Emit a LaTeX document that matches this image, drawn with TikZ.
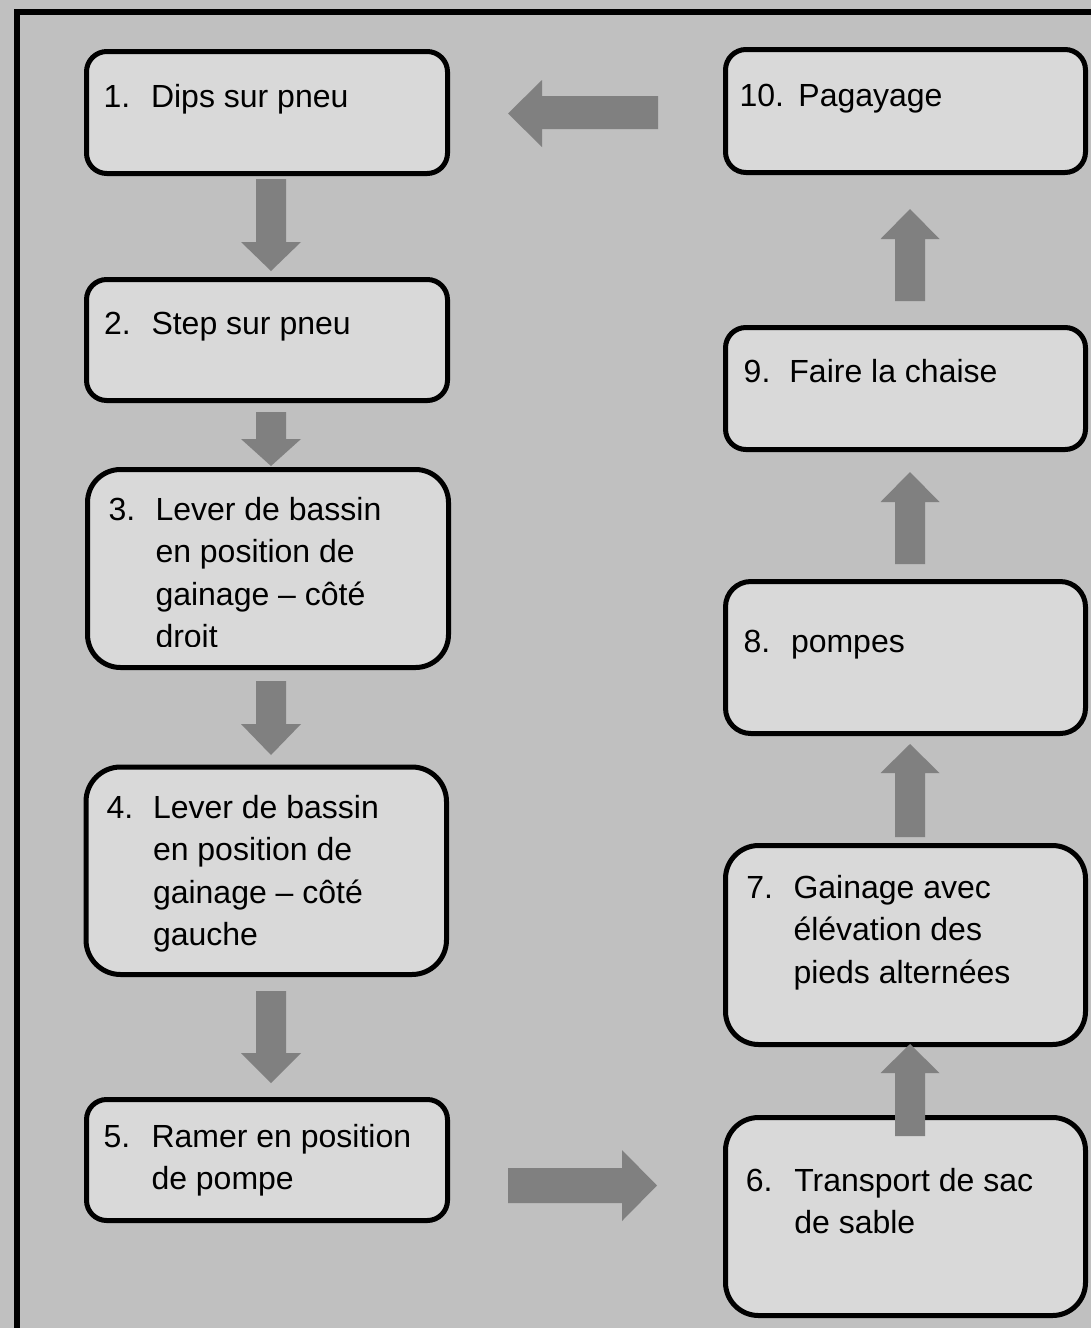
\documentclass[tikz,border=0pt]{standalone}
\usepackage{fontspec}
\setmainfont{Liberation Sans}
\definecolor{bgray}{HTML}{C0C0C0}
\definecolor{boxfill}{HTML}{D9D9D9}
\definecolor{arrowgray}{HTML}{808080}
\tikzset{
  flowbox/.style={draw=black, fill=boxfill, line width=3.75pt, inner sep=0pt, outer sep=0pt},
  txt/.style={anchor=base west, inner sep=0pt, outer sep=0pt, font=\fontsize{24}{31.9}\selectfont, text=black},
  blockarrow/.style={fill=arrowgray},
  frameline/.style={draw=black, line width=4.3pt}
}
% name, x1, y1, x2, y2 (pixel coordinates of stroke centre)
\newcommand\flowstep[5]{%
  \pgfmathsetmacro\bw{(#4-#2)*0.75}%
  \pgfmathsetmacro\bh{(#5-#3)*0.75}%
  \pgfmathsetmacro\br{min(\bw,\bh)/6}%
  \node[flowbox, minimum width=\bw pt, minimum height=\bh pt, rounded corners=\br pt] (#1) at ({(#2+#4)/2},{(#3+#5)/2}) {};%
}
% centre x, shaft top, head base, tip (pointing down)
\newcommand\arrowdown[4]{%
  \fill[blockarrow] (#1-15,#2) -- (#1+15,#2) -- (#1+15,#3) -- (#1+30,#3) -- (#1,#4) -- (#1-30,#3) -- (#1-15,#3) -- cycle;}
% centre x, shaft bottom, head base, tip (pointing up)
\newcommand\arrowup[4]{%
  \fill[blockarrow] (#1-15,#2) -- (#1+15,#2) -- (#1+15,#3) -- (#1+29.5,#3) -- (#1,#4) -- (#1-29.5,#3) -- (#1-15,#3) -- cycle;}
\begin{document}
\begin{tikzpicture}[x=0.75pt, y=-0.75pt]
\useasboundingbox (0,0) rectangle (1091,1328);
\fill[bgray] (0,0) rectangle (1091,1328);
\begin{scope}
  \clip (0,0) rectangle (1091,1328);
  \draw[frameline] (17,12) rectangle (1120,1350);
\end{scope}

% boxes
\flowstep{b1}{86.5}{51.5}{447.5}{173.5}
\flowstep{b2}{86.5}{279.5}{447.5}{400.5}
\flowstep{b3}{87.5}{469.5}{448.5}{667.5}
\flowstep{b4}{86}{767}{446.5}{974.5}
\flowstep{b5}{86.5}{1099.5}{447.5}{1220.5}
\flowstep{b6}{725.5}{1117.5}{1085.5}{1315.5}
\flowstep{b7}{725.5}{845.5}{1085.5}{1044.5}
\flowstep{b8}{725.5}{581.5}{1085.5}{733.5}
\flowstep{b9}{725.5}{327.5}{1085.5}{449.5}
\flowstep{b10}{725.5}{49.5}{1085.5}{172.5}

% texts
\node[txt] (t1n) at (103.5,107.7) {1.};
\node[txt] (t1) at (151,107.7) {Dips sur pneu};
\node[txt] (t2n) at (104,334) {2.};
\node[txt] (t2) at (151.5,334) {Step sur pneu};
\begin{scope}
  \clip (88,469) rectangle (448,646.5);
  \node[txt] (t3n) at (108.5,520) {3.};
  \node[txt] (t3a) at (155.5,520) {Lever de bassin};
  \node[txt] (t3b) at (155.5,562.5) {en position de};
  \node[txt] (t3c) at (155.5,605) {gainage – côté};
  \node[txt] (t3d) at (155.5,647.5) {droit};
\end{scope}
\node[txt] (t4n) at (106.5,818) {4.};
\node[txt] (t4a) at (153,818) {Lever de bassin};
\node[txt] (t4b) at (153,860.5) {en position de};
\node[txt] (t4c) at (153,903) {gainage – côté};
\node[txt] (t4d) at (153,945.5) {gauche};
\node[txt] (t5n) at (103.6,1147) {5.};
\node[txt] (t5a) at (151.5,1147) {Ramer en position};
\node[txt] (t5b) at (151.5,1189) {de pompe};
\node[txt] (t6n) at (745.8,1191) {6.};
\node[txt] (t6a) at (794.3,1191) {Transport de sac};
\node[txt] (t6b) at (794.3,1233) {de sable};
\node[txt] (t7n) at (746.4,898) {7.};
\node[txt] (t7a) at (793.5,898) {Gainage avec};
\node[txt] (t7b) at (793.5,940.5) {élévation des};
\node[txt] (t7c) at (793.5,983) {pieds alternées};
\node[txt] (t8n) at (743.5,652) {8.};
\node[txt] (t8) at (791,652) {pompes};
\node[txt] (t9n) at (743.7,382) {9.};
\node[txt] (t9) at (789.4,382) {Faire la chaise};
\node[txt] (t10n) at (739.5,106.7) {10.};
\node[txt] (t10) at (798.4,106.7) {Pagayage};

% block arrows
\arrowdown{271}{179}{242}{271}
\arrowdown{271}{412}{439}{466}
\arrowdown{271}{681}{724}{755}
\arrowdown{271}{991}{1053}{1083}
\arrowup{910}{1136}{1073}{1044}
\arrowup{910}{837}{773}{744}
\arrowup{910}{564}{502}{472}
\arrowup{910}{301}{239}{209}
% 5 -> 6 (right)
\fill[blockarrow] (508,1168) -- (622,1168) -- (622,1150) -- (657,1185.5) -- (622,1221) -- (622,1203) -- (508,1203) -- cycle;
% 10 -> 1 (left)
\fill[blockarrow] (658,96) -- (542,96) -- (542,80) -- (508,113.5) -- (542,147) -- (542,129) -- (658,129) -- cycle;
\end{tikzpicture}
\end{document}
